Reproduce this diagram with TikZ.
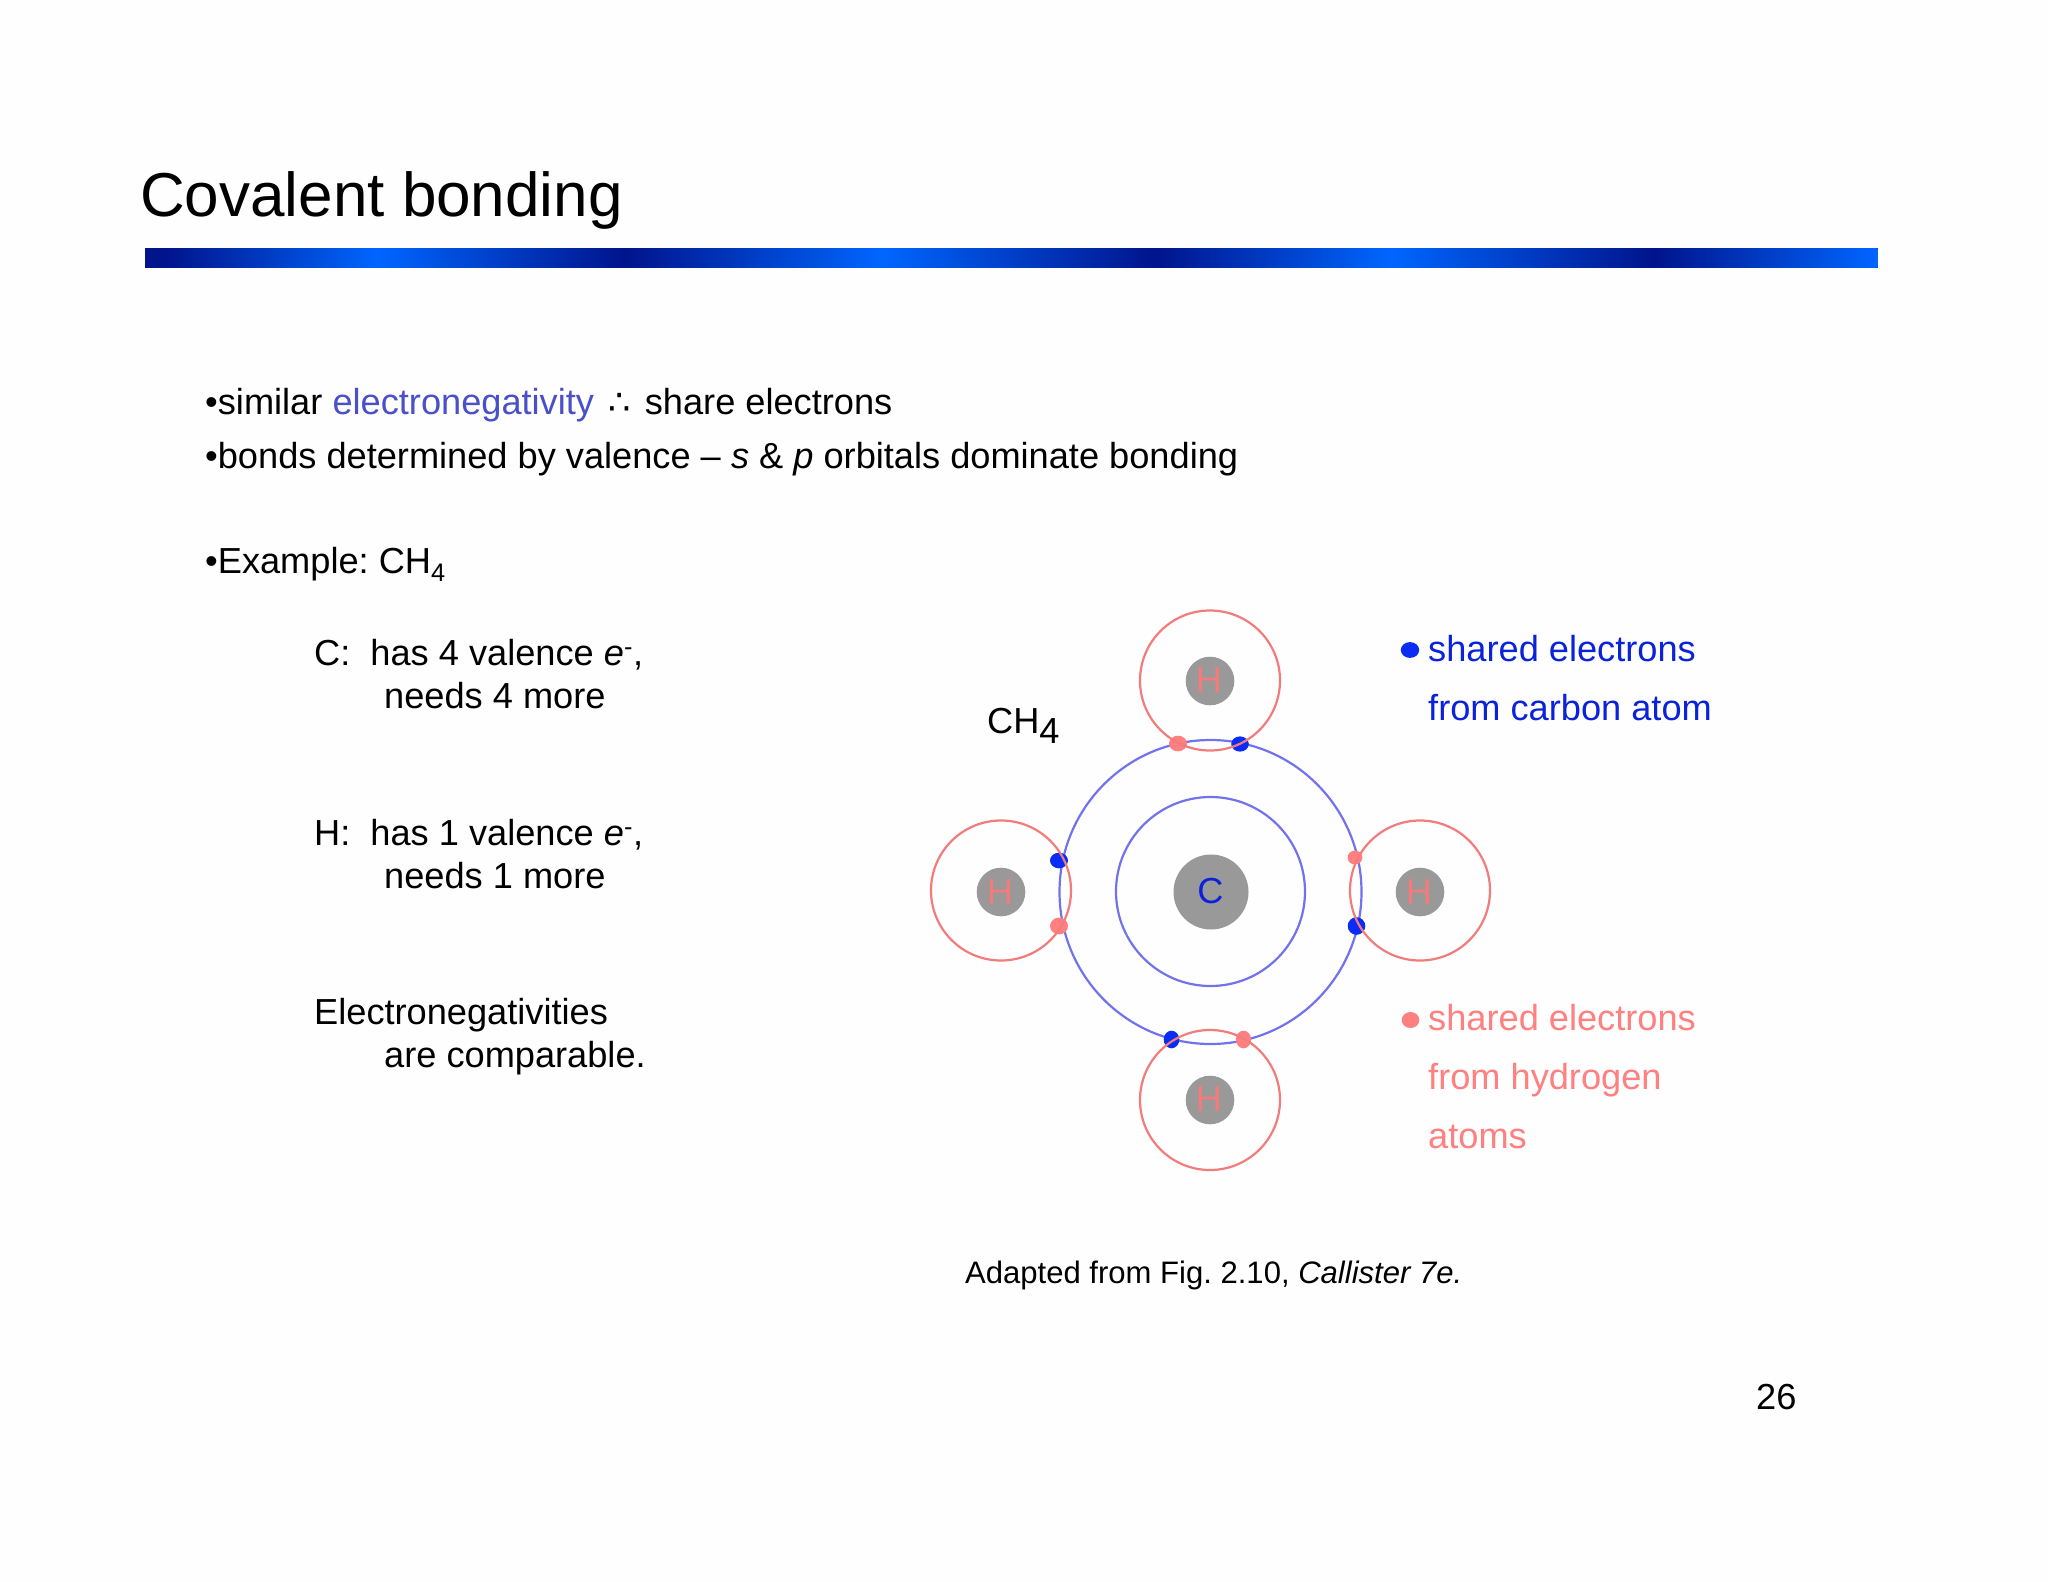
\documentclass[tikz,border=0pt]{standalone}
\usepackage{fontspec}
\setmainfont{Liberation Sans}
\newfontfamily\symfont{DejaVu Sans}
\frenchspacing
\definecolor{bgc}{HTML}{FEFEFE}
\definecolor{shellblue}{HTML}{7272EC}
\definecolor{hred}{HTML}{F27C7C}
\definecolor{epink}{HTML}{FF8080}
\definecolor{eblue}{HTML}{0A2CF5}
\definecolor{tblue}{HTML}{0A22DC}
\definecolor{nuc}{HTML}{999999}
\definecolor{neg}{HTML}{4A50C8}
\definecolor{bardark}{HTML}{00148C}
\definecolor{barlight}{HTML}{0066FF}
\tikzset{
  shellc/.style={draw=shellblue,line width=2.2pt},
  hshell/.style={draw=hred,line width=2.2pt},
  nucl/.style={fill=nuc},
  bodyt/.style={anchor=base west,inner sep=0pt,font=\fontsize{36.2pt}{36.2pt}\selectfont,text=black},
  bluet/.style={bodyt,text=tblue},
  pinkt/.style={bodyt,text=epink},
  nuclabel/.style={inner sep=0pt,font=\fontsize{36.2pt}{36.2pt}\selectfont},
}
\begin{document}
\begin{tikzpicture}[x=1pt,y=-1pt]
\fill[bgc] (0,0) rectangle (2048,1582);
\useasboundingbox (0,0) rectangle (2048,1582);
% title
\node[bodyt,font=\fontsize{62pt}{62pt}\selectfont] (title) at (140,216) {Covalent bonding};
% bar
\fill[bardark] (145,248) rectangle (165.5,267.5);
\foreach \a/\b/\ca/\cb in {165/377/bardark/barlight,377/624/barlight/bardark,624/882/bardark/barlight,882/1155/barlight/bardark,1155/1390/bardark/barlight,1390/1654/barlight/bardark,1654/1877/bardark/barlight}{
  \fill[left color=\ca,right color=\cb,shading=axis,shading angle=90] (\a,248) rectangle (\b+0.5,267.5);
}
% texts
\node[bodyt] (t1) at (205,414) {•similar \textcolor{neg}{electronegativity}\hspace{14pt}{\symfont\fontsize{35pt}{35pt}\selectfont ∴}\hspace{14.5pt}share electrons};
\node[bodyt] (t2) at (205,468) {•bonds determined by valence – \textit{s} \& \textit{p} orbitals dominate bonding};
\node[bodyt] (t3) at (205,573) {•Example: CH\textsubscript{4}};
\node[bodyt] (c1) at (314,665) {C:\ \ has 4 valence \textit{e}\textsuperscript{-},};
\node[bodyt] (c2) at (384,708) {needs 4 more};
\node[bodyt] (h1) at (314,845) {H:\ \ has 1 valence \textit{e}\textsuperscript{-},};
\node[bodyt] (h2) at (384,888) {needs 1 more};
\node[bodyt] (e1) at (314,1024.5) {Electronegativities};
\node[bodyt] (e2) at (384,1067.5) {are comparable.};
\node[bodyt] (ch4) at (987,733) {CH\raisebox{-0.3em}{4}};
\node[bluet] (b1) at (1428,661) {shared electrons};
\node[bluet] (b2) at (1428,720) {from carbon atom};
\node[pinkt] (p1) at (1428,1030) {shared electrons};
\node[pinkt] (p2) at (1428,1089) {from hydrogen};
\node[pinkt] (p3) at (1428,1148) {atoms};
\node[bodyt,font=\fontsize{31.05pt}{31.05pt}\selectfont] (cap) at (965,1283) {Adapted from Fig. 2.10, \textit{Callister 7e.}};
\node[bodyt] (num) at (1756,1409) {26};
% nuclei
\fill[nucl] (1211,892) circle [radius=37.5];
\fill[nucl] (1210,681) circle [radius=24.3];
\fill[nucl] (1210,1100) circle [radius=24.3];
\fill[nucl] (1001,892) circle [radius=24.3];
\fill[nucl] (1420,892) circle [radius=24.3];
\node[nuclabel,text=tblue] (cl) at (1210.5,891) {C};
\node[nuclabel,text=hred] (h1l) at (1209,680) {H};
\node[nuclabel,text=hred] (h2l) at (1209,1099) {H};
\node[nuclabel,text=hred] (h3l) at (1000,892) {H};
\node[nuclabel,text=hred] (h4l) at (1419,892) {H};
% shells
\draw[shellc] (1210.5,891.5) ellipse [x radius=94.5,y radius=94.5];
\draw[shellc] (1210.5,892) ellipse [x radius=151,y radius=152];
% electrons
\fill[epink] (1178,743.5) ellipse [x radius=9,y radius=7.8];
\fill[eblue] (1240,744) ellipse [x radius=8.8,y radius=7.6];
\fill[eblue] (1059,860.5) ellipse [x radius=9,y radius=7.8];
\fill[epink] (1059,926) ellipse [x radius=9,y radius=8.4];
\fill[epink] (1355,857.5) ellipse [x radius=7.4,y radius=7];
\fill[eblue] (1356.5,926) ellipse [x radius=8.8,y radius=8.8];
\fill[eblue] (1171.5,1039.5) ellipse [x radius=7.8,y radius=8.8];
\fill[epink] (1243.5,1039.5) ellipse [x radius=7.6,y radius=8.8];
\fill[eblue] (1410,650) ellipse [x radius=9.2,y radius=7.9];
\fill[epink] (1410.5,1020) ellipse [x radius=8.8,y radius=8];
% hydrogen shells
\draw[hshell] (1210,680.5) circle [radius=70];
\draw[hshell] (1210,1100) circle [radius=70];
\draw[hshell] (1001,890.5) circle [radius=70];
\draw[hshell] (1420,890.5) circle [radius=70];
\end{tikzpicture}
\end{document}
